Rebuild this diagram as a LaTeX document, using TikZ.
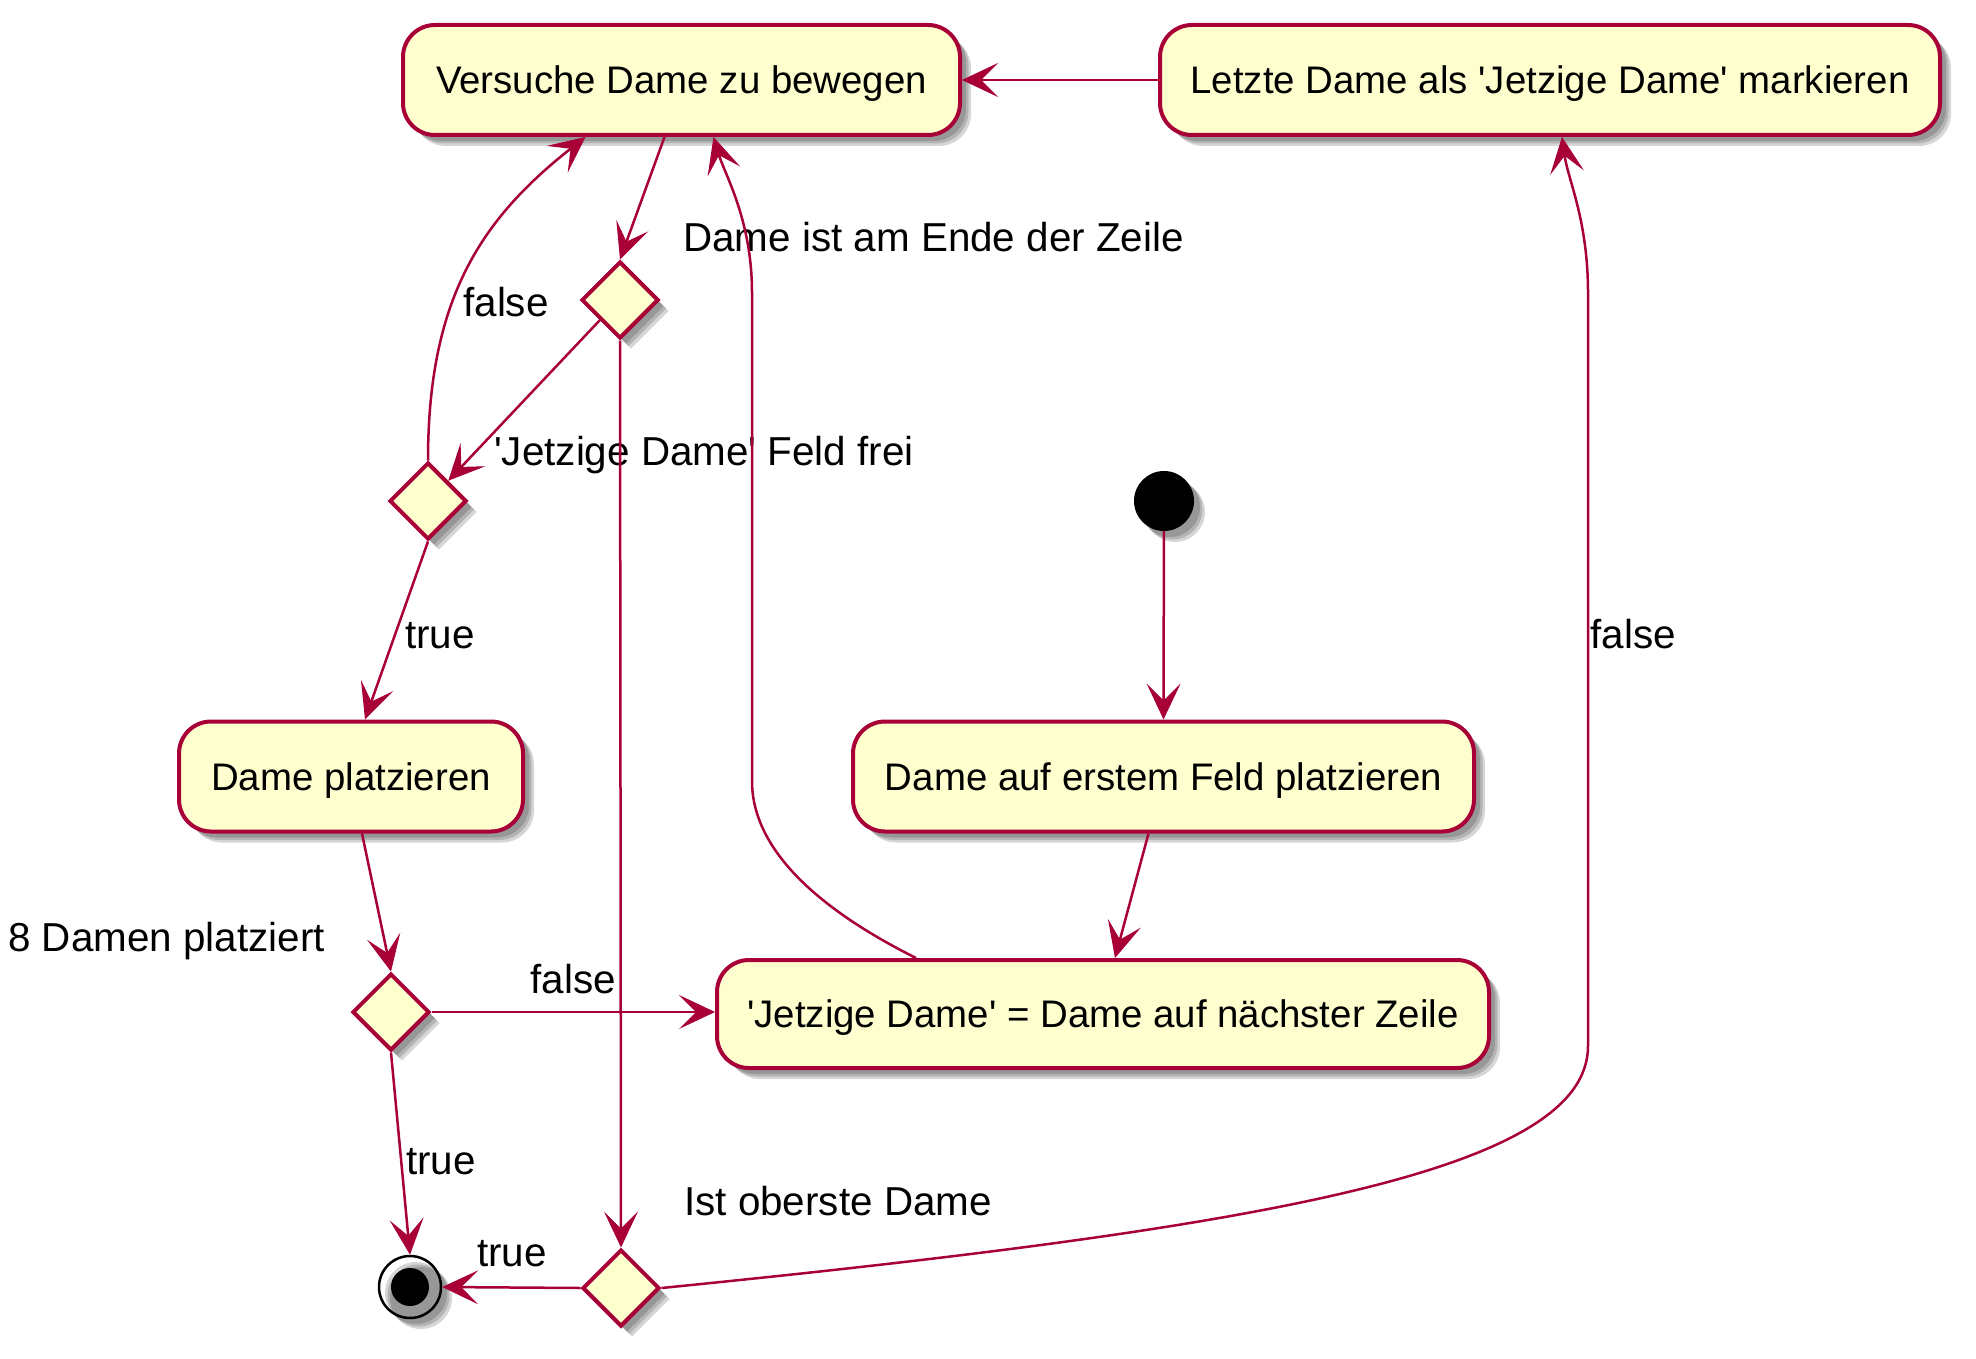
\documentclass[tikz,border=0pt]{standalone}
\usepackage{fontspec}
\setmainfont{Liberation Sans}[Ligatures=TeXOff]
\usetikzlibrary{shapes.geometric,shadows,arrows.meta,calc}
\definecolor{umlborder}{HTML}{A80036}
\definecolor{umlfill}{HTML}{FEFECE}
\tikzset{
  shad/.style={
    general shadow={fill=black, opacity=0.16, shadow xshift=6pt, shadow yshift=-6pt},
    general shadow={fill=black, opacity=0.16, shadow xshift=8.5pt, shadow yshift=-8.5pt},
    general shadow={fill=black, opacity=0.16, shadow xshift=11pt, shadow yshift=-11pt}},
  txt/.style={font=\fontsize{38.4}{46}\selectfont, text height=27pt, text depth=0pt},
  act/.style={rectangle, rounded corners=32pt, draw=umlborder, fill=umlfill, line width=4pt,
    minimum height=110pt, inner sep=0pt, shad, txt},
  dec/.style={diamond, draw=umlborder, fill=umlfill, line width=4pt,
    minimum width=77pt, minimum height=77pt, inner sep=0pt, shad},
  conn/.style={draw=umlborder, line width=2.5pt,
    -{Stealth[length=36pt,width=34pt,inset=17pt,line width=1pt,fill=umlborder]}},
  lbl/.style={font=\fontsize{40.4}{48}\selectfont, text height=29pt, text depth=0pt, inner sep=0pt}
}
\begin{document}
\begin{tikzpicture}[x=1pt,y=-1pt]
\useasboundingbox (0,0) rectangle (1976,1359);
% activities
\node[act, minimum width=557pt] (vers) at (681.5,80) {Versuche Dame zu bewegen};
\node[act, minimum width=780pt] (letzte) at (1550,80) {Letzte Dame als 'Jetzige Dame' markieren};
\node[act, minimum width=344pt] (dp) at (351,776.5) {Dame platzieren};
\node[act, minimum width=621pt] (first) at (1163.5,776.5) {Dame auf erstem Feld platzieren};
\node[act, minimum width=772pt, minimum height=108pt] (jetzt) at (1103,1014) {'Jetzige Dame' = Dame auf nächster Zeile};
% decisions
\node[dec] (d1) at (620,300) {};
\node[dec] (d2) at (428,501) {};
\node[dec] (d3) at (391,1012) {};
\node[dec] (d4) at (621,1288) {};
% start / end
\node[circle, fill=black, minimum size=60pt, inner sep=0pt, shad] (start) at (1164,501) {};
\node[circle, draw=black, line width=2.5pt, minimum size=62pt, inner sep=0pt, shad] (end) at (410,1287) {};
\node[circle, fill=black, minimum size=38pt, inner sep=0pt] (endin) at (end.center) {};
% labels
\node[lbl, anchor=west] (l1) at (683,237) {Dame ist am Ende der Zeile};
\node[lbl] (l2) at (506,302) {false};
\node[lbl, anchor=west] (l3) at (494,451) {'Jetzige Dame' Feld frei};
\node[lbl] (l4) at (440,634) {true};
\node[lbl] (l5) at (1633,634) {false};
\node[lbl, anchor=west] (l6) at (8,937) {8 Damen platziert};
\node[lbl] (l7) at (573,979) {false};
\node[lbl] (l8) at (441,1160) {true};
\node[lbl, anchor=west] (l9) at (684,1201) {Ist oberste Dame};
\node[lbl] (l10) at (512,1252) {true};
% connectors
\draw[conn] (start) -- (first.north);
\draw[conn] ([xshift=-15pt]first.south) -- ([xshift=12pt]jetzt.north);
\draw[conn] ([xshift=-187pt]jetzt.north) .. controls (840,920) and (752,860) .. (752,781)
   -- (752,293) .. controls (752,220) and (725,175) .. ([xshift=32pt]vers.south);
\draw[conn] ([xshift=-17pt]vers.south) -- (d1.north);
\draw[conn] (d1.south west) -- (d2.north east);
\draw[conn] (d1.south) -- (d4.north);
\draw[conn] (d2.north) .. controls (428,300) and (480,220) .. ([xshift=-96pt]vers.south);
\draw[conn] (d2.south) -- ([xshift=14pt]dp.north);
\draw[conn] ([xshift=11pt]dp.south) -- (d3.north);
\draw[conn] (d3.east) -- (d3.east -| jetzt.west);
\draw[conn] (d3.south) -- (end.north);
\draw[conn] (d4.west) -- (end.east);
\draw[conn] (d4.east) .. controls (1260,1228) and (1588,1172) .. (1588,1046)
   -- (1588,293) .. controls (1588,220) and (1568,180) .. ([xshift=12pt]letzte.south);
\draw[conn] (letzte.west) -- (vers.east);
\end{tikzpicture}
\end{document}
